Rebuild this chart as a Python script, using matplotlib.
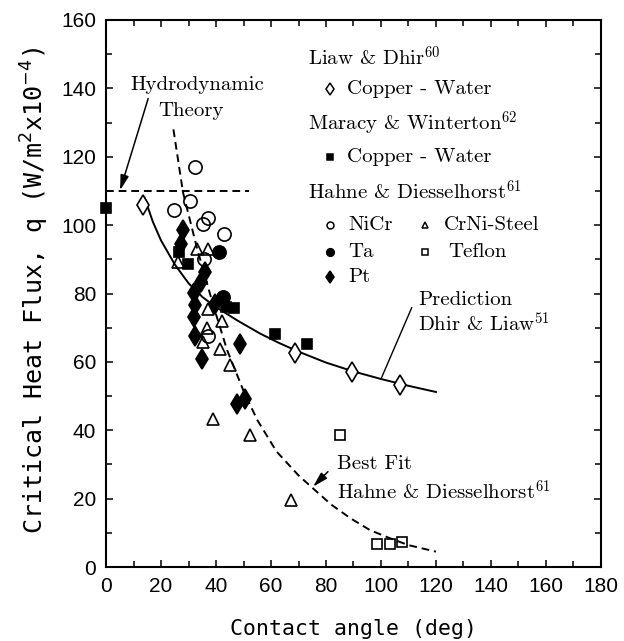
import matplotlib
matplotlib.use("Agg")
import matplotlib.pyplot as plt
from matplotlib.ticker import MultipleLocator

plt.rcParams['mathtext.fontset'] = 'cm'

# ---------------- data ----------------
# Liaw & Dhir (open diamonds), Copper - Water
liaw_x = [13.6, 68.7, 89.5, 106.9]
liaw_y = [106.0, 62.5, 57.0, 53.3]
# Maracy & Winterton (filled squares), Copper - Water
maracy_x = [0.0, 26.7, 29.9, 43.5, 46.5, 61.5, 73.0]
maracy_y = [105.0, 92.0, 88.5, 76.0, 75.7, 68.3, 65.2]
# Hahne & Diesselhorst
nicr_x = [32.4, 30.5, 24.7, 35.2, 37.2, 42.9, 35.5, 37.2]
nicr_y = [116.9, 107.0, 104.3, 100.4, 102.2, 97.4, 90.0, 67.6]
ta_x = [41.1, 42.7]
ta_y = [92.0, 79.0]
pt_x = [28.1, 27.3, 36.0, 34.6, 31.8, 39.5, 32.2, 31.8, 32.4, 34.8, 48.7, 47.5, 50.4]
pt_y = [98.5, 94.4, 86.4, 83.3, 80.2, 77.0, 76.6, 73.0, 67.6, 60.8, 65.2, 47.7, 49.2]
crni_x = [33.0, 37.2, 26.3, 37.2, 42.3, 36.6, 35.4, 41.5, 45.1, 39.0, 52.4, 67.4]
crni_y = [93.0, 93.0, 89.2, 75.4, 72.0, 70.0, 65.7, 63.8, 59.2, 43.4, 38.6, 19.5]
teflon_x = [85.1, 98.4, 103.3, 107.5]
teflon_y = [38.5, 6.7, 6.7, 7.2]

# Prediction, Dhir & Liaw (solid curve)
pred_x = [14, 17, 20, 25, 30, 35, 40, 48, 56, 63, 70, 80, 90, 100, 110, 120]
pred_y = [108, 101, 95.5, 88.5, 83, 79, 76, 72, 68.3, 65.5, 63, 59.8, 57.2, 55, 53, 51.2]
# Best fit, Hahne & Diesselhorst (dashed curve)
fit_x = [24.5, 28, 33, 39, 44, 50, 55, 62, 70, 75, 82, 89, 96, 103, 110, 120]
fit_y = [128, 109.5, 93.5, 76.5, 63.5, 51.5, 43, 33.8, 26.8, 23.2, 18.2, 14.2, 10.8, 8.5, 6.4, 4.5]
# Hydrodynamic theory (horizontal dashed line)
hydro_x = [0, 52]
hydro_y = [110, 110]

xticks = [0, 20, 40, 60, 80, 100, 120, 140, 160, 180]
yticks = [0, 20, 40, 60, 80, 100, 120, 140, 160]

# ---------------- figure ----------------
fig = plt.figure(figsize=(6.24, 6.41), dpi=100)
ax = fig.add_axes([0.170, 0.1154, 0.793, 0.8534])
ax.set_xlim(0, 180)
ax.set_ylim(0, 160)

ms_kw = dict(linestyle='none', markeredgecolor='black', markeredgewidth=1.2, clip_on=False)
ax.plot(liaw_x, liaw_y, marker='d', markersize=10.5, markerfacecolor='white', zorder=4, **ms_kw)
ax.plot(maracy_x, maracy_y, marker='s', markersize=7.5, markerfacecolor='black', zorder=4, **ms_kw)
ax.plot(nicr_x, nicr_y, marker='o', markersize=9.5, markerfacecolor='none', zorder=4, **ms_kw)
ax.plot(ta_x, ta_y, marker='o', markersize=9.5, markerfacecolor='black', zorder=4, **ms_kw)
ax.plot(pt_x, pt_y, marker='d', markersize=10.5, markerfacecolor='black', zorder=4, **ms_kw)
ax.plot(crni_x, crni_y, marker='^', markersize=9, markerfacecolor='none', zorder=4, **ms_kw)
ax.plot(teflon_x, teflon_y, marker='s', markersize=7.5, markerfacecolor='none', zorder=4, **ms_kw)

ax.plot(pred_x, pred_y, color='black', lw=1.4, zorder=3)
ax.plot(fit_x, fit_y, color='black', lw=1.4, dashes=(4, 2.5), zorder=3)
ax.plot(hydro_x, hydro_y, color='black', lw=1.4, dashes=(4, 2.5), zorder=3)

# ticks
ax.set_xticks(xticks)
ax.set_yticks(yticks)
ax.xaxis.set_minor_locator(MultipleLocator(10))
ax.yaxis.set_minor_locator(MultipleLocator(10))
ax.tick_params(which='both', direction='in', top=True, right=True, width=1.1)
ax.tick_params(which='major', length=5, pad=7, labelsize=15)
ax.tick_params(which='minor', length=4)
for lab in ax.get_xticklabels() + ax.get_yticklabels():
    lab.set_fontfamily('Liberation Sans')
for s in ax.spines.values():
    s.set_linewidth(1.5)

ax.set_xlabel('Contact angle (deg)', fontfamily='DejaVu Sans Mono', fontsize=15.5)
ax.xaxis.set_label_coords(0.5, -0.095)
ax.set_ylabel(r'Critical Heat Flux, q (W/m$^2$x10$^{-4}$)', fontfamily='DejaVu Sans Mono',
              fontsize=18, math_fontfamily='dejavusans')
ax.yaxis.set_label_coords(-0.111, 0.506)

# ---------------- legend-like annotations ----------------
tf = dict(fontfamily='cmr10', fontsize=15, va='center', ha='left')
ax.text(73.5, 149.1, r'Liaw & Dhir$^{60}$', **tf)
ax.text(87.5, 139.9, 'Copper - Water', **tf)
ax.text(73.5, 129.7, r'Maracy & Winterton$^{62}$', **tf)
ax.text(87.5, 120.0, 'Copper - Water', **tf)
ax.text(73.5, 109.7, r'Hahne & Diesselhorst$^{61}$', **tf)
ax.text(88.1, 100.0, 'NiCr', **tf)
ax.text(122.7, 100.0, 'CrNi-Steel', **tf)
ax.text(88.1, 92.2, 'Ta', **tf)
ax.text(124.4, 92.2, 'Teflon', **tf)
ax.text(88.1, 84.9, 'Pt', **tf)

lk = dict(linestyle='none', markeredgecolor='black', markeredgewidth=1.1)
ax.plot([81.5], [139.9], marker='d', markersize=6.5, markerfacecolor='white', **lk)
ax.plot([81.5], [120.0], marker='s', markersize=4.5, markerfacecolor='black', **lk)
ax.plot([81.5], [100.0], marker='o', markersize=5, markerfacecolor='white', **lk)
ax.plot([116.0], [100.0], marker='^', markersize=5, markerfacecolor='white', **lk)
ax.plot([81.5], [92.2], marker='o', markersize=5.5, markerfacecolor='black', **lk)
ax.plot([116.0], [92.2], marker='s', markersize=4.5, markerfacecolor='white', **lk)
ax.plot([81.5], [84.9], marker='d', markersize=6.5, markerfacecolor='black', **lk)

# Hydrodynamic theory label + arrow
ax.text(8.7, 140.9, 'Hydrodynamic', **tf)
ax.text(18.9, 133.4, 'Theory', **tf)
ax.annotate('', xy=(5.1, 110.2), xytext=(15.3, 137.0),
            arrowprops=dict(arrowstyle='-|>,head_length=0.9,head_width=0.25', color='black',
                            lw=1.1, shrinkA=0, shrinkB=0))

# Prediction label + pointer
ax.text(113.6, 78.1, 'Prediction', **tf)
ax.text(113.6, 71.3, r'Dhir & Liaw$^{51}$', **tf)
ax.annotate('', xy=(100.0, 55.0), xytext=(111.2, 75.9),
            arrowprops=dict(arrowstyle='-', color='black', lw=1.0, shrinkA=0, shrinkB=0))

# Best fit label + arrow
ax.text(84.0, 30.1, 'Best Fit', **tf)
ax.text(84.0, 21.9, r'Hahne & Diesselhorst$^{61}$', **tf)
ax.annotate('', xy=(75.3, 23.5), xytext=(80.7, 27.9),
            arrowprops=dict(arrowstyle='-|>,head_length=0.9,head_width=0.25', color='black',
                            lw=1.1, shrinkA=0, shrinkB=0))

fig.savefig('out.png', dpi=100)
